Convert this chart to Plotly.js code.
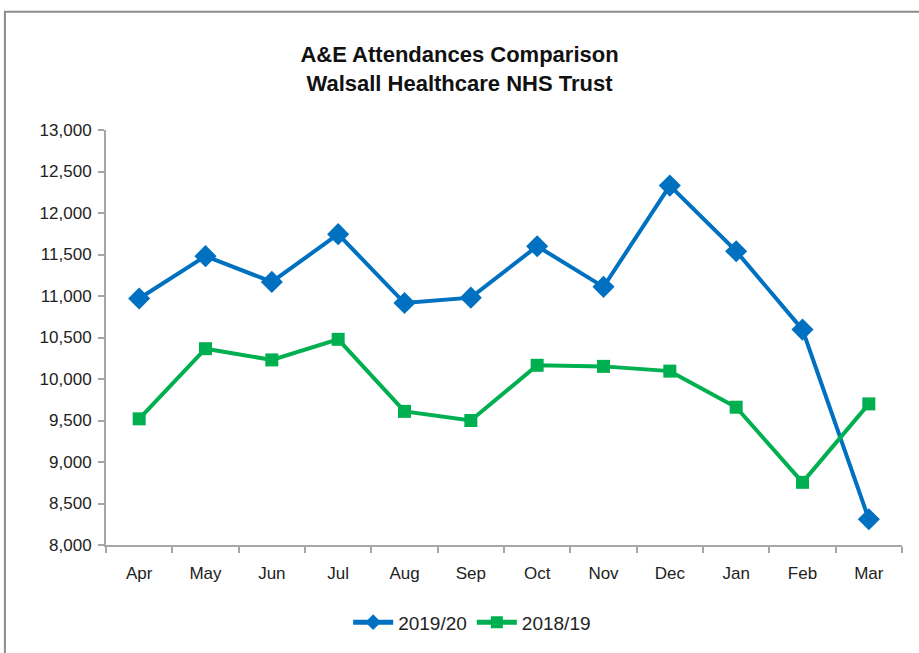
<!DOCTYPE html>
<html>
<head>
<meta charset="utf-8">
<script src="https://cdn.plot.ly/plotly-3.0.1.min.js"></script>
<style>html,body{margin:0;padding:0;background:#fff;}#chart{width:919px;height:653px;}</style>
</head>
<body>
<div id="chart"></div>
<script>
const months = ["Apr","May","Jun","Jul","Aug","Sep","Oct","Nov","Dec","Jan","Feb","Mar"];
const series2019 = [10970, 11480, 11170, 11745, 10915, 10980, 11600, 11110, 12330, 11540, 10595, 8310];
const series2018 = [9520, 10365, 10230, 10478, 9610, 9500, 10165, 10152, 10095, 9660, 8755, 9700];
const yTicks = [8000, 8500, 9000, 9500, 10000, 10500, 11000, 11500, 12000, 12500, 13000];

const font = "Liberation Sans, Arial, sans-serif";

const traces = [
  {
    x: months, y: series2019, name: "2019/20", type: "scatter", mode: "lines+markers",
    line: {color: "#0070C0", width: 4},
    marker: {symbol: "diamond", size: 17, color: "#0070C0"}
  },
  {
    x: months, y: series2018, name: "2018/19", type: "scatter", mode: "lines+markers",
    line: {color: "#00B050", width: 4},
    marker: {symbol: "square", size: 13, color: "#00B050"}
  }
];

const layout = {
  width: 919, height: 653,
  margin: {l: 106, r: 17, t: 130, b: 108, autoexpand: false},
  paper_bgcolor: "#fff", plot_bgcolor: "#fff",
  font: {family: font, color: "#222", size: 17},
  title: {
    text: "<b>A&E Attendances Comparison</b><br><b>Walsall Healthcare NHS Trust</b>",
    font: {family: font, size: 22, color: "#111"},
    x: 0.5, xanchor: "center", yref: "container", y: 0.905, yanchor: "middle"
  },
  xaxis: {
    type: "category",
    showline: true, linecolor: "#A6A6A6", linewidth: 2,
    ticks: "outside", tickson: "boundaries", ticklen: 6, tickcolor: "#A6A6A6", tickwidth: 2,
    showgrid: false, zeroline: false,
    ticklabelstandoff: 12,
    tickfont: {size: 17, family: font, color: "#222"},
    range: [-0.5, 11.5]
  },
  yaxis: {
    range: [8000, 13000],
    tickvals: yTicks,
    tickformat: ",d",
    showline: true, linecolor: "#A6A6A6", linewidth: 2,
    ticks: "outside", ticklen: 6, tickcolor: "#A6A6A6", tickwidth: 2,
    showgrid: false, zeroline: false,
    ticklabelstandoff: 3,
    tickfont: {size: 17, family: font, color: "#222"}
  },
  legend: {
    orientation: "h", x: 0.46, xanchor: "center",
    yref: "container", y: 0.047, yanchor: "middle",
    font: {size: 19, family: font, color: "#222"},
    itemsizing: "constant",
    itemwidth: 40
  },
  shapes: [
    {type: "rect", xref: "paper", yref: "paper",
     x0: -0.127, x1: 1.2, y0: -0.5, y1: 1.285,
     line: {color: "#8C8C8C", width: 2}, fillcolor: "rgba(0,0,0,0)", layer: "below"}
  ],
  showlegend: true
};

Plotly.newPlot("chart", traces, layout, {displayModeBar: false, staticPlot: true});
</script>
</body>
</html>
